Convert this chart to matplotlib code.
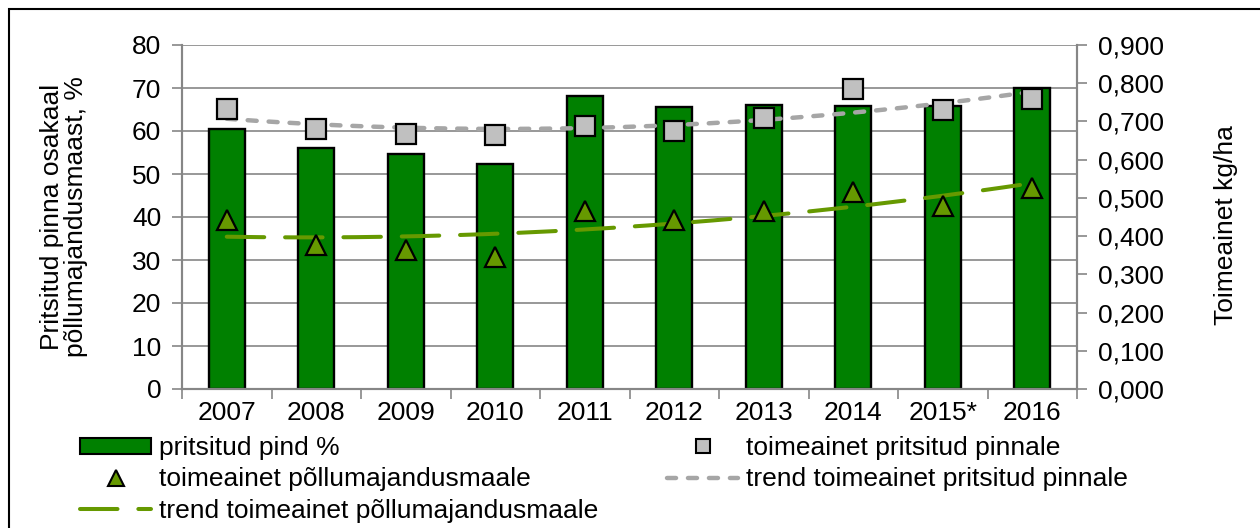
import numpy as np
import matplotlib
matplotlib.use("Agg")
import matplotlib.pyplot as plt
from matplotlib.ticker import FuncFormatter, FixedLocator
from matplotlib.lines import Line2D
from matplotlib.patches import Rectangle

plt.rcParams['font.family'] = ['Liberation Sans', 'DejaVu Sans']
plt.rcParams['font.size'] = 19
plt.rcParams['lines.scale_dashes'] = False

years = ["2007", "2008", "2009", "2010", "2011", "2012", "2013", "2014", "2015*", "2016"]
pind = [60.5, 56.0, 54.7, 52.4, 68.1, 65.6, 66.0, 65.9, 65.9, 70.0]
pinnale = [0.733, 0.679, 0.667, 0.664, 0.689, 0.675, 0.709, 0.786, 0.730, 0.758]
maale = [0.442, 0.377, 0.364, 0.346, 0.467, 0.441, 0.467, 0.515, 0.480, 0.526]

grid_c = '#868686'
bar_c = '#008000'
sq_c = '#C0C0C0'
tri_c = '#669900'
gtrend_c = '#A6A6A6'

fig = plt.figure(figsize=(12.6, 5.28), dpi=100)
ax = fig.add_axes([182/1260, 1-389/528, (1077-182)/1260, (389-45)/528])
ax2 = ax.twinx()

x = np.arange(len(years))
ax.bar(x, pind, width=0.4, color=bar_c, edgecolor='black', linewidth=1.7, zorder=2)
ax.set_ylim(0, 80)
ax.set_xlim(-0.5, len(years) - 0.5)
ax.set_yticks(np.arange(0, 81, 10))
ax.yaxis.grid(True, color=grid_c, linewidth=1.2)
ax.set_axisbelow(True)

# category boundaries as ticks, labels in the middle
ax.xaxis.set_major_locator(FixedLocator(np.arange(-0.5, len(years), 1.0)))
ax.xaxis.set_minor_locator(FixedLocator(x))
ax.set_xticklabels([])
ax.set_xticklabels(years, minor=True)
ax.tick_params(axis='x', which='major', length=7, color=grid_c, width=1.2)
ax.tick_params(axis='x', which='minor', length=0, pad=9)
ax.tick_params(axis='y', length=7, color=grid_c, width=1.2, pad=8)

# trendlines (2nd order polynomial)
xs = np.linspace(0, len(years) - 1, 200)
p_sq = np.polyfit(x, pinnale, 2)
p_tri = np.polyfit(x, maale, 2)
ax2.plot(xs, np.polyval(p_sq, xs), color=gtrend_c, lw=3.2,
         dashes=(6.5, 8.6), dash_capstyle='round', zorder=3)
ax2.plot(xs, np.polyval(p_tri, xs), color=tri_c, lw=2.9,
         dashes=(27, 15), dash_capstyle='round', zorder=3)
ax2.plot(x, pinnale, 's', ms=14, mfc=sq_c, mec='black', mew=1.6, zorder=4)
ax2.plot(x, maale, '^', ms=15, mfc=tri_c, mec='black', mew=1.6, zorder=4)

ax2.set_ylim(0, 0.9)
ax2.set_yticks(np.arange(0, 0.91, 0.1))
ax2.yaxis.set_major_formatter(FuncFormatter(lambda v, p: f"{v:.3f}".replace('.', ',')))
ax2.tick_params(axis='y', length=7, color=grid_c, width=1.2, pad=8)

for a in (ax, ax2):
    a.spines['top'].set_visible(False)
    for s in ('left', 'right', 'bottom'):
        a.spines[s].set_color(grid_c)
        a.spines[s].set_linewidth(1.5)

fig.text(64/1260, 1-217/528, "Pritsitud pinna osakaal\npõllumajandusmaast, %",
         rotation=90, ha='center', va='center', linespacing=1.0)
fig.text(1226/1260, 1-225/528, "Toimeainet kg/ha", rotation=90, ha='center', va='center')

h_bar = Rectangle((0, 0), 1, 1, facecolor=bar_c, edgecolor='black', linewidth=1.5)
h_tri = Line2D([], [], ls='none', marker='^', ms=11, mfc=tri_c, mec='black', mew=1.5)
h_sq = Line2D([], [], ls='none', marker='s', ms=10, mfc=sq_c, mec='black', mew=1.5)
h_gt = Line2D([], [], color=gtrend_c, lw=3.2, dashes=(6.5, 8.6), dash_capstyle='round')
h_tt = Line2D([], [], color=tri_c, lw=2.9, dashes=(27, 15), dash_capstyle='round')
labels = ["pritsitud pind %", "toimeainet põllumajandusmaale",
          "trend toimeainet põllumajandusmaale",
          "toimeainet pritsitud pinnale", "trend toimeainet pritsitud pinnale"]
fig.legend([h_bar, h_tri, h_tt, h_sq, h_gt], labels, ncol=2, frameon=False,
           loc='upper left', bbox_to_anchor=(80/1260, 1-436/528),
           borderpad=0, borderaxespad=0, handlelength=2.7, handleheight=0.55,
           handletextpad=0.3, columnspacing=2.6, labelspacing=0.28)

fig.add_artist(Rectangle((9/1260, -0.1), 1.2, 1 - 9/528 + 0.1, transform=fig.transFigure,
                         fill=False, edgecolor='black', linewidth=1.5))

fig.savefig("out.png", dpi=100)
